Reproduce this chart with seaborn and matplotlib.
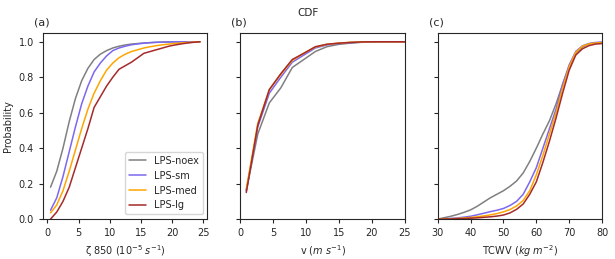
import matplotlib
matplotlib.use("Agg")
import matplotlib.pyplot as plt
import seaborn as sns
import pandas as pd

groups = ["LPS-noex", "LPS-sm", "LPS-med", "LPS-lg"]
colors = ["gray", "mediumslateblue", "orange", "brown"]

# (a) relative vorticity at 850 hPa
vort_x = [0.5, 1.5, 2.5, 3.5, 4.5, 5.5, 6.5, 7.5, 8.5, 9.5, 10.5, 11.5, 12.5,
          13.5, 14.5, 15.5, 16.5, 17.5, 18.5, 19.5, 20.5, 21.5, 22.5, 23.5, 24.5]
vort_noex = [0.18, 0.27, 0.40, 0.55, 0.68, 0.78, 0.85, 0.90, 0.93, 0.95, 0.965, 0.975, 0.982,
             0.987, 0.99, 0.993, 0.995, 0.997, 0.998, 0.999, 1.0, 1.0, 1.0, 1.0, 1.0]
vort_sm = [0.05, 0.12, 0.24, 0.38, 0.52, 0.65, 0.75, 0.83, 0.88, 0.92, 0.95, 0.965, 0.975,
           0.983, 0.988, 0.992, 0.995, 0.997, 0.998, 0.999, 1.0, 1.0, 1.0, 1.0, 1.0]
vort_med = [0.035, 0.08, 0.16, 0.27, 0.39, 0.51, 0.62, 0.71, 0.78, 0.84, 0.88, 0.91, 0.93,
            0.945, 0.955, 0.965, 0.972, 0.978, 0.983, 0.987, 0.99, 0.993, 0.996, 0.998, 1.0]
vort_lg = [0.0, 0.04, 0.10, 0.18, 0.29, 0.40, 0.51, 0.63, 0.69, 0.75, 0.80, 0.845, 0.865,
           0.885, 0.91, 0.935, 0.945, 0.955, 0.965, 0.975, 0.982, 0.988, 0.993, 0.997, 1.0]

# (b) wind speed
wind_x = [0.9, 2.65, 4.4, 6.15, 7.9, 9.65, 11.4, 13.15, 14.9, 16.65, 18.4, 20.15, 21.9, 23.65, 25.4]
wind_noex = [0.16, 0.48, 0.655, 0.74, 0.855, 0.90, 0.945, 0.972, 0.985, 0.992, 0.997, 0.999, 1.0, 1.0, 1.0]
wind_sm = [0.16, 0.52, 0.71, 0.80, 0.885, 0.925, 0.965, 0.982, 0.99, 0.995, 0.998, 1.0, 1.0, 1.0, 1.0]
wind_med = [0.17, 0.54, 0.73, 0.815, 0.895, 0.935, 0.97, 0.985, 0.992, 0.997, 0.999, 1.0, 1.0, 1.0, 1.0]
wind_lg = [0.15, 0.53, 0.73, 0.82, 0.90, 0.935, 0.972, 0.986, 0.992, 0.996, 0.999, 1.0, 1.0, 1.0, 1.0]

# (c) total column water vapour
tcwv_x = [30, 32, 34, 36, 38, 40, 42, 44, 46, 48, 50, 52, 54,
          56, 58, 60, 62, 64, 66, 68, 70, 72, 74, 76, 78, 80]
tcwv_noex = [0.0, 0.008, 0.016, 0.026, 0.038, 0.052, 0.072, 0.096, 0.12, 0.14, 0.16, 0.185, 0.215,
             0.26, 0.325, 0.40, 0.48, 0.555, 0.65, 0.76, 0.86, 0.935, 0.97, 0.988, 0.994, 0.996]
tcwv_sm = [0.0, 0.002, 0.004, 0.007, 0.011, 0.016, 0.024, 0.033, 0.042, 0.05, 0.06, 0.077, 0.10,
           0.14, 0.21, 0.29, 0.40, 0.51, 0.62, 0.76, 0.87, 0.945, 0.977, 0.99, 0.996, 0.998]
tcwv_med = [0.0, 0.001, 0.002, 0.004, 0.006, 0.009, 0.013, 0.018, 0.024, 0.031, 0.041, 0.054, 0.074,
            0.105, 0.16, 0.25, 0.36, 0.48, 0.60, 0.74, 0.86, 0.94, 0.975, 0.988, 0.993, 0.995]
tcwv_lg = [0.0, 0.0, 0.001, 0.002, 0.003, 0.005, 0.007, 0.01, 0.013, 0.017, 0.023, 0.035, 0.055,
           0.085, 0.14, 0.21, 0.32, 0.44, 0.57, 0.71, 0.84, 0.925, 0.96, 0.978, 0.987, 0.99]


def to_long(x, series):
    frames = []
    for name, vals in zip(groups, series):
        frames.append(pd.DataFrame({"x": x, "p": vals, "group": name}))
    return pd.concat(frames, ignore_index=True)


df_a = to_long(vort_x, [vort_noex, vort_sm, vort_med, vort_lg])
df_b = to_long(wind_x, [wind_noex, wind_sm, wind_med, wind_lg])
df_c = to_long(tcwv_x, [tcwv_noex, tcwv_sm, tcwv_med, tcwv_lg])

sns.set_style("ticks")
fs = 7
plt.rcParams["font.size"] = fs
palette = dict(zip(groups, colors))

fig, axes = plt.subplots(1, 3, figsize=(6.15, 2.59), dpi=100, sharey=True)
fig.subplots_adjust(left=0.07, right=0.979, bottom=0.154, top=0.873, wspace=0.2)

panels = [
    (df_a, "ζ 850 ($10^{-5}$ $s^{-1}$)", "(a)", [0, 5, 10, 15, 20, 25]),
    (df_b, "v ($m$ $s^{-1}$)", "(b)", [0, 5, 10, 15, 20, 25]),
    (df_c, "TCWV ($kg$ $m^{-2}$)", "(c)", [30, 40, 50, 60, 70, 80]),
]
for ax, (df, xlabel, tag, ticks) in zip(axes, panels):
    sns.lineplot(data=df, x="x", y="p", hue="group", palette=palette,
                 estimator=None, sort=False, linewidth=1.1, ax=ax, legend=(tag == "(a)"))
    ax.set_xticks(ticks)
    ax.set_xlabel(xlabel, fontsize=fs)
    ax.set_ylabel("")
    ax.tick_params(labelsize=fs, length=3)
    ax.text(-0.055, 1.03, tag, transform=ax.transAxes, fontsize=8, va="bottom", ha="left")

axes[0].set_ylim(0, 1.05)
axes[0].set_ylabel("Probability", fontsize=fs)
axes[0].set_yticks([0.0, 0.2, 0.4, 0.6, 0.8, 1.0])
axes[1].set_xlim(0, 25)
axes[2].set_xlim(30, 80)

leg = axes[0].legend(loc="lower right", fontsize=fs, frameon=True, handlelength=1.8)
leg.set_title(None)

fig.suptitle("CDF", fontsize=7.5, y=0.97)

fig.savefig("out.png", dpi=100)
